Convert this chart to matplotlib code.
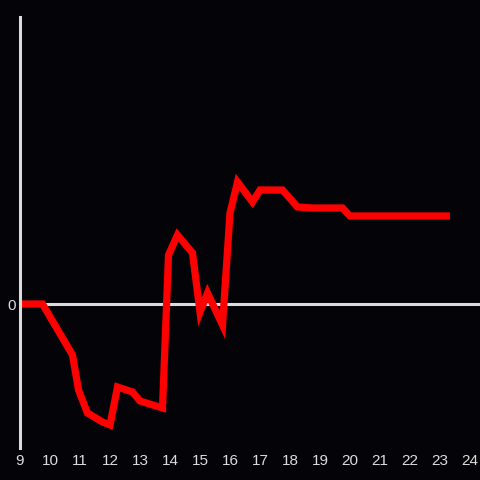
import matplotlib
matplotlib.use('Agg')
import matplotlib.pyplot as plt

# values
xs = [9, 9.75, 10.75, 10.95, 11.25, 11.75, 12.0, 12.25, 12.75, 13.0, 13.75,
      13.95, 14.25, 14.75, 15.0, 15.25, 15.75, 16.0, 16.25, 16.75, 17.0,
      17.75, 18.25, 18.75, 19.75, 20.0, 23.33]
ys = [0, 0, -5.1, -8.6, -10.9, -11.8, -12.1, -8.3, -8.8, -9.7, -10.4,
      4.9, 6.9, 5.1, -0.8, 1.1, -2.1, 9.1, 12.2, 10.2, 11.4,
      11.4, 9.7, 9.6, 9.6, 8.8, 8.8]
xticks = list(range(9, 25))

bg = '#040307'
fg = '#dcdcdc'

plt.rcParams['font.family'] = ['Liberation Sans', 'DejaVu Sans']

fig = plt.figure(figsize=(4.8, 4.8), dpi=100, facecolor=bg)
ax = fig.add_axes([20/480, 32/480, 460/480, 431/480])
ax.set_facecolor(bg)

ax.axhline(0, color=fg, lw=2.2, zorder=1)
ax.plot(xs, ys, color='#ff0000', lw=5.2, solid_capstyle='butt',
        solid_joinstyle='miter', zorder=2)

ax.set_xlim(9, 24.333)
ax.set_ylim(-14.4, 28.7)
ax.set_xticks(xticks)
ax.set_yticks([0])
ax.tick_params(length=0, colors=fg, labelsize=11)
ax.tick_params(axis='x', pad=4)
ax.tick_params(axis='y', pad=3)
for s in ['top', 'right', 'bottom']:
    ax.spines[s].set_visible(False)
ax.spines['left'].set_color(fg)
ax.spines['left'].set_linewidth(2.2)

fig.savefig('out.png', dpi=100, facecolor=bg)
